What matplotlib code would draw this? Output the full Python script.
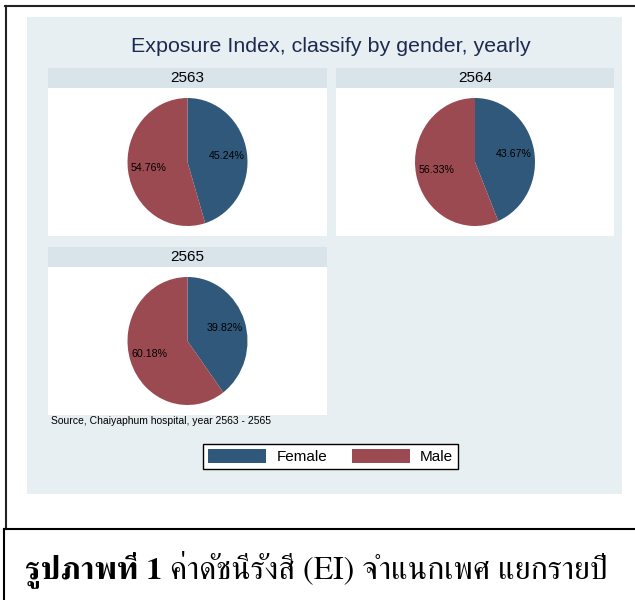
import matplotlib
matplotlib.use('Agg')
import matplotlib.pyplot as plt
from matplotlib.patches import Rectangle, Patch
from matplotlib.lines import Line2D

plt.rcParams['font.family'] = ['Liberation Sans', 'DejaVu Sans']

# data
years = ['2563', '2564', '2565']
genders = ['Female', 'Male']
female_pct = [45.24, 43.67, 39.82]
male_pct = [54.76, 56.33, 60.18]
title = 'Exposure Index, classify by gender, yearly'
source_note = 'Source, Chaiyaphum hospital, year 2563 - 2565'
caption_bold = 'รูปภาพที่ 1'
caption_rest = ' ค่าดัชนีรังสี (EI) จำแนกเพศ แยกรายปี'

colors = ['#30587a', '#9b4a51']
bg = '#e8eff2'
strip_col = '#d8e4ea'

W, H = 635, 600
fig = plt.figure(figsize=(W / 100, H / 100), dpi=100)


def box(x0, y0, x1, y1):
    # pixel box (top-left origin) -> figure fraction rect
    return [x0 / W, 1 - y1 / H, (x1 - x0) / W, (y1 - y0) / H]


def px(x, y):
    return x / W, 1 - y / H


# outer frames
fig.add_artist(Line2D([5 / W, 1], [1 - 6 / H] * 2, color='#222222', lw=1.5))
fig.add_artist(Line2D([6 / W] * 2, [1 - 6 / H, 1 - 529 / H], color='#222222', lw=1.5))
fig.add_artist(Line2D([4 / W, 1], [1 - 529 / H] * 2, color='black', lw=1.5))
fig.add_artist(Line2D([4 / W] * 2, [1 - 529 / H, 0], color='black', lw=1.5))

# graph region
r = box(27, 17, 622, 494)
fig.add_artist(Rectangle((r[0], r[1]), r[2], r[3], transform=fig.transFigure,
                         facecolor=bg, edgecolor='none', zorder=0))

fig.text(*px(331, 47), title, ha='center', va='center', fontsize=15.4, color='#1c2a4f')

panels = [(48, 327, 68), (336, 614, 68), (48, 327, 247)]
for i, (x0, x1, y0) in enumerate(panels):
    sax = fig.add_axes(box(x0, y0, x1, y0 + 20))
    sax.set_facecolor(strip_col)
    sax.set_xticks([])
    sax.set_yticks([])
    for s in sax.spines.values():
        s.set_visible(False)
    sax.text(0.5, 0.5, years[i], ha='center', va='center', fontsize=11,
             transform=sax.transAxes)

    y_top = y0 + 20
    y_bot = y0 + 168
    ax = fig.add_axes(box(x0, y_top, x1, y_bot))
    ax.pie([female_pct[i], male_pct[i]], colors=colors, startangle=90,
           counterclock=False, autopct='%.2f%%', pctdistance=0.66,
           wedgeprops=dict(linewidth=0), textprops=dict(fontsize=7.7, color='black'))
    ax.set_aspect('auto')
    hw = (x1 - x0) / 2 / 60.0
    hh = (y_bot - y_top) / 2 / 64.0
    ax.set_xlim(-hw, hw)
    ax.set_ylim(-hh, hh)
    ax.set_facecolor('white')
    ax.set_frame_on(True)
    for s in ax.spines.values():
        s.set_visible(False)

fig.text(*px(51, 421), source_note, ha='left', va='center', fontsize=7.5)

handles = [Patch(facecolor=c, edgecolor='none') for c in colors]
leg = fig.legend(handles, genders, loc='center', bbox_to_anchor=px(330.5, 456.5),
                 ncol=2, fontsize=11, handlelength=3.8, handleheight=1.05,
                 columnspacing=1.6, handletextpad=0.65, borderpad=0.35,
                 fancybox=False, frameon=True, framealpha=1)
leg.get_frame().set_edgecolor('black')
leg.get_frame().set_facecolor('white')
leg.get_frame().set_linewidth(1.0)

# caption (Thai, serif)
t1 = fig.text(*px(25, 578), caption_bold, ha='left', va='baseline', fontsize=23,
              family='FreeSerif', fontweight='bold')
fig.canvas.draw()
bb = t1.get_window_extent()
fig.text(bb.x1 / W, 1 - 578 / H, caption_rest, ha='left', va='baseline', fontsize=23,
         family='FreeSerif')

fig.savefig('out.png', dpi=100)
